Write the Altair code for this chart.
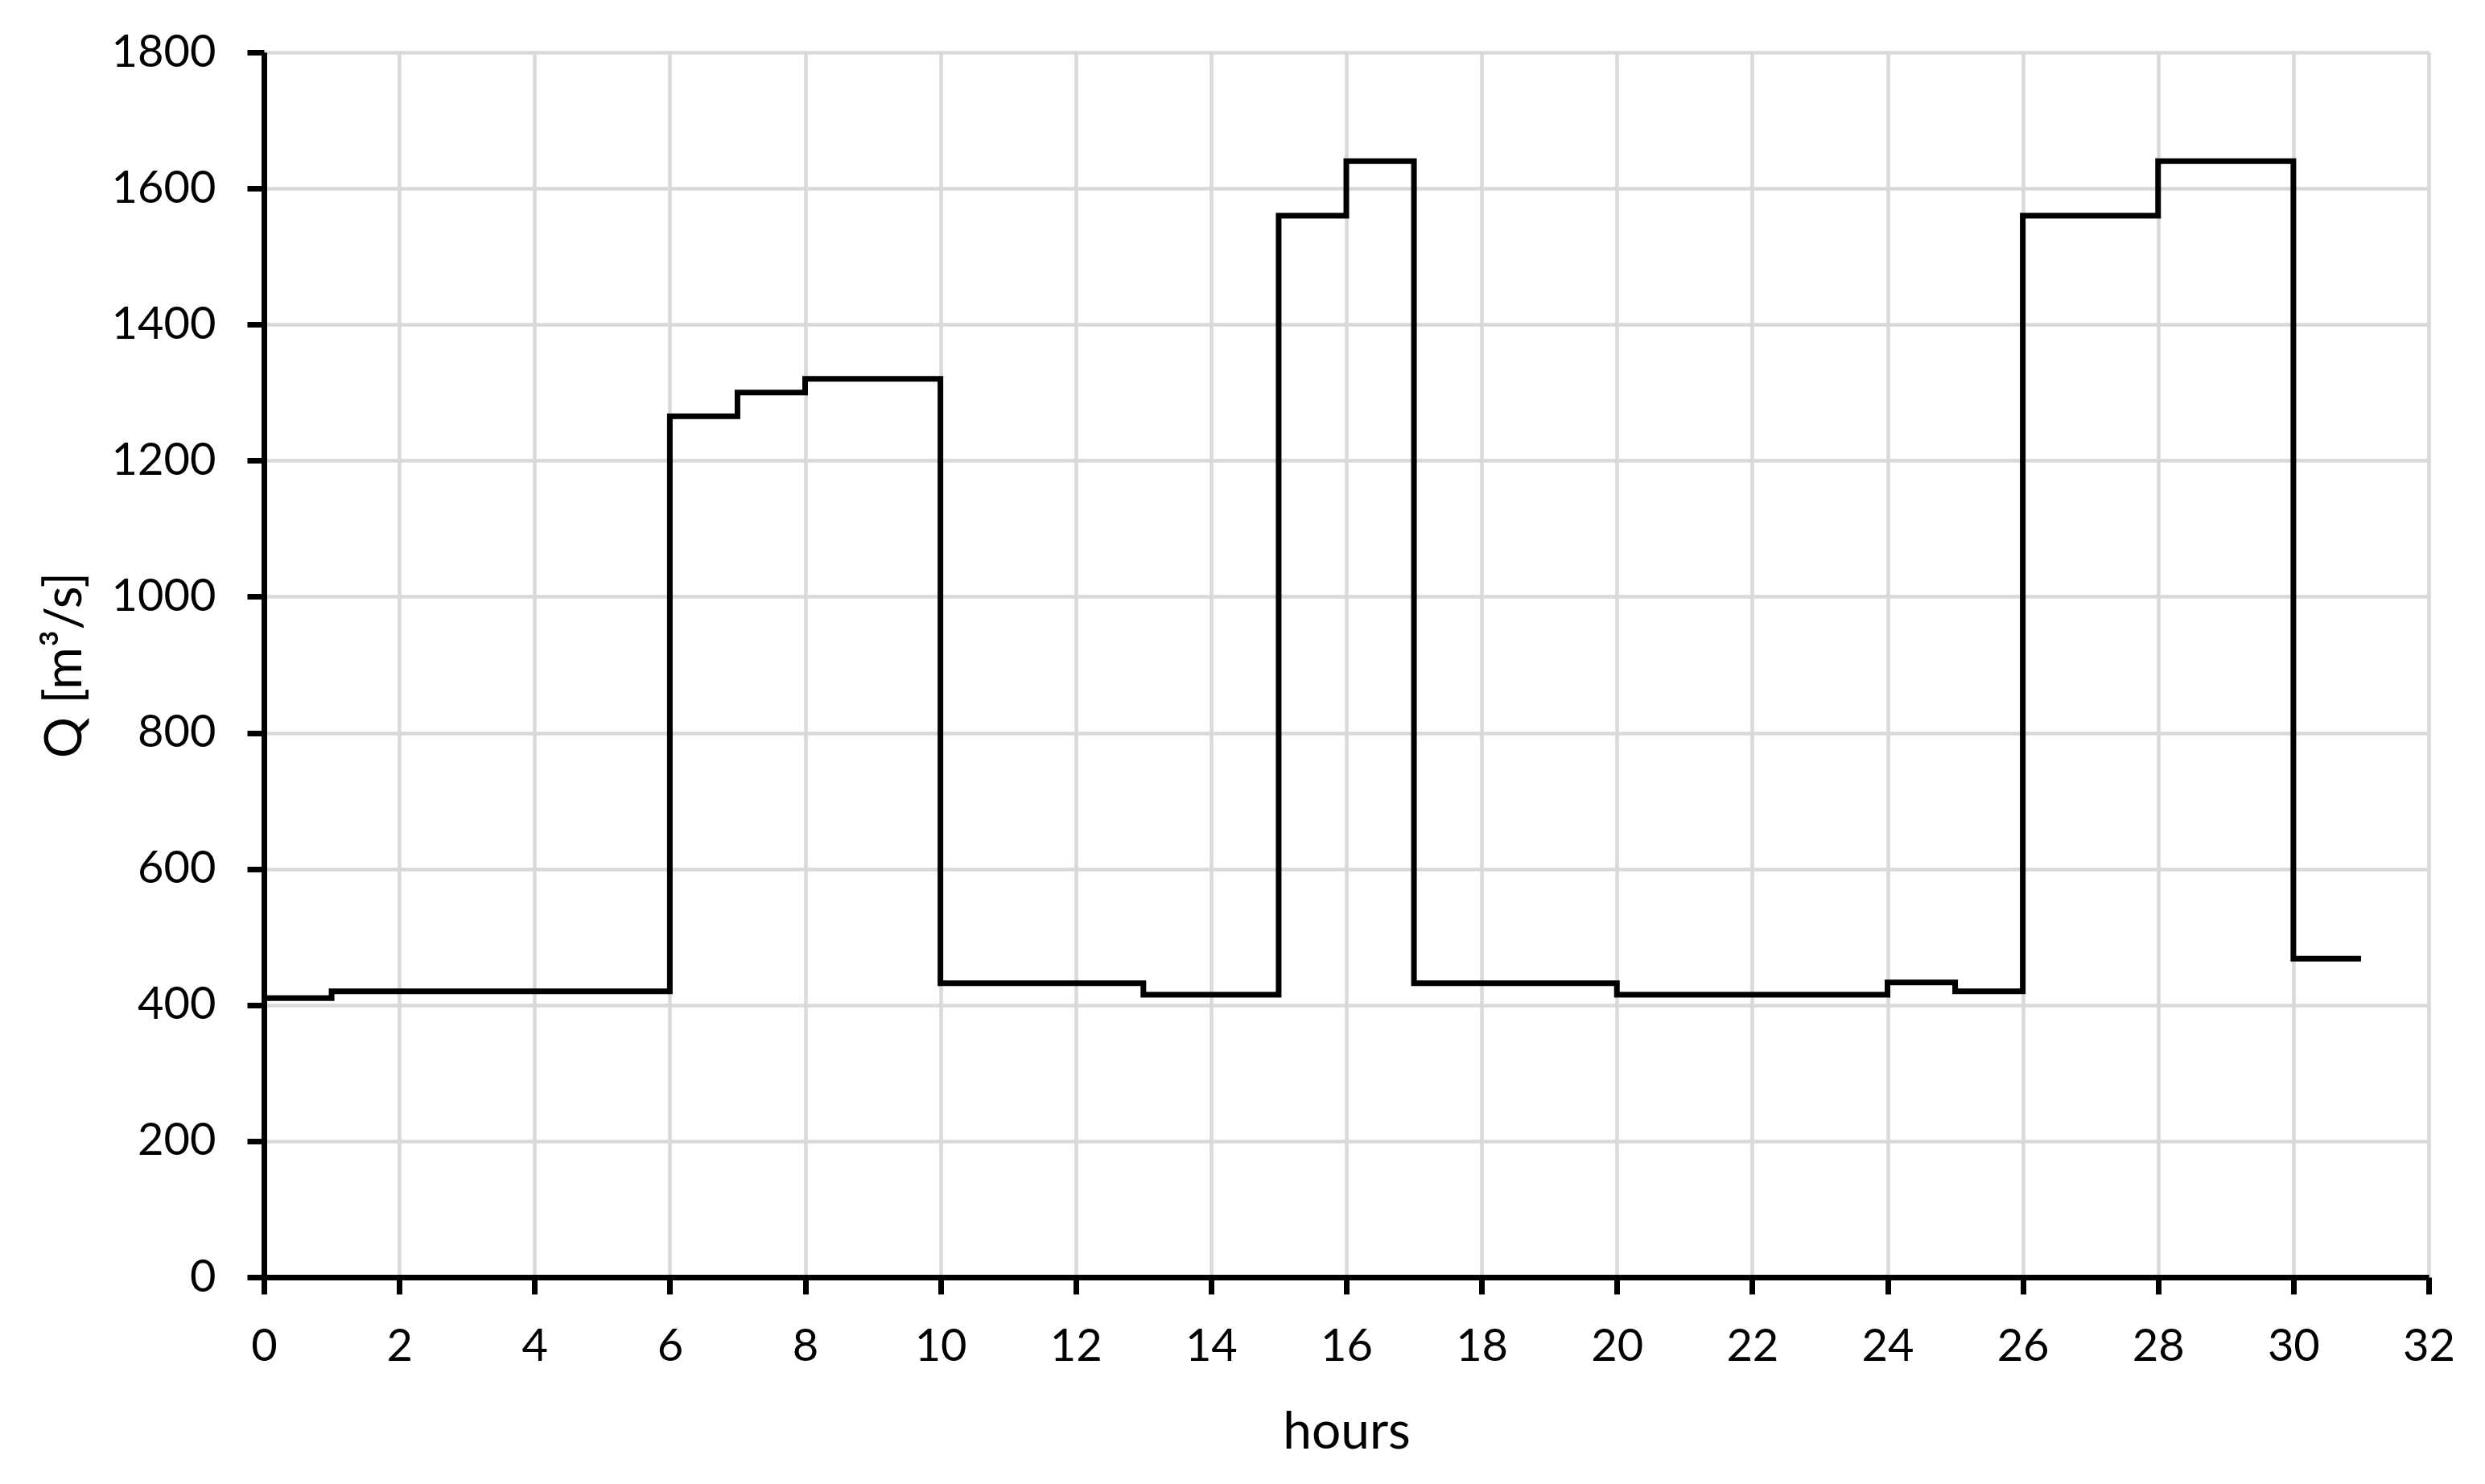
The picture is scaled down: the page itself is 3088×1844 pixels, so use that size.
import altair as alt
import pandas as pd

# step start times (hours) and discharge values (m3/s); last point closes the final step
hours = [0, 1, 6, 7, 8, 10, 13, 15, 16, 17, 20, 24, 25, 26, 28, 30, 31]
flow = [410, 420, 1265, 1300, 1320, 432, 415, 1560, 1640, 432, 415, 433, 420, 1560, 1640, 468, 468]

x_ticks = list(range(0, 33, 2))
y_ticks = list(range(0, 1801, 200))

df = pd.DataFrame({"hours": hours, "Q": flow})

FONT = "Lato"

chart = (
    alt.Chart(df)
    .mark_line(interpolate="step-after", color="black", strokeWidth=7, strokeCap="butt", strokeJoin="miter")
    .encode(
        x=alt.X(
            "hours:Q",
            scale=alt.Scale(domain=[0, 32], nice=False, zero=False),
            axis=alt.Axis(
                values=x_ticks,
                format="d",
                title="hours",
                titleBaseline="alphabetic",
                titleY=212,
                titleFontSize=64,
                titleFontWeight="normal",
                titleFont=FONT,
                titleColor="black",
                labelFontSize=56,
                labelFont=FONT,
                labelColor="black",
                labelPadding=38,
                tickSize=21,
                tickWidth=7,
                tickColor="black",
                domainColor="black",
                domainWidth=7,
                gridColor="#d9d9d9",
                gridWidth=4.5,
                labelFlush=False,
            ),
        ),
        y=alt.Y(
            "Q:Q",
            scale=alt.Scale(domain=[0, 1800], nice=False),
            axis=alt.Axis(
                values=y_ticks,
                format="d",
                title="Q [m³/s]",
                titleBaseline="alphabetic",
                titleX=-228,
                titleAngle=270,
                titleFontSize=64,
                titleFontWeight="normal",
                titleFont=FONT,
                titleColor="black",
                labelFontSize=56,
                labelFont=FONT,
                labelColor="black",
                labelPadding=39,
                tickSize=21,
                tickWidth=7,
                tickColor="black",
                domainColor="black",
                domainWidth=7,
                gridColor="#d9d9d9",
                gridWidth=4.5,
                labelFlush=False,
            ),
        ),
    )
    .properties(
        width=2690,
        height=1522,
        autosize=alt.AutoSizeParams(type="none"),
        padding={"left": 320, "top": 57, "right": 60, "bottom": 240},
    )
    .configure_view(stroke="black", strokeWidth=2)
    .configure(background="white")
)

chart.save("out.html", embed_options={"renderer": "svg", "actions": False})
